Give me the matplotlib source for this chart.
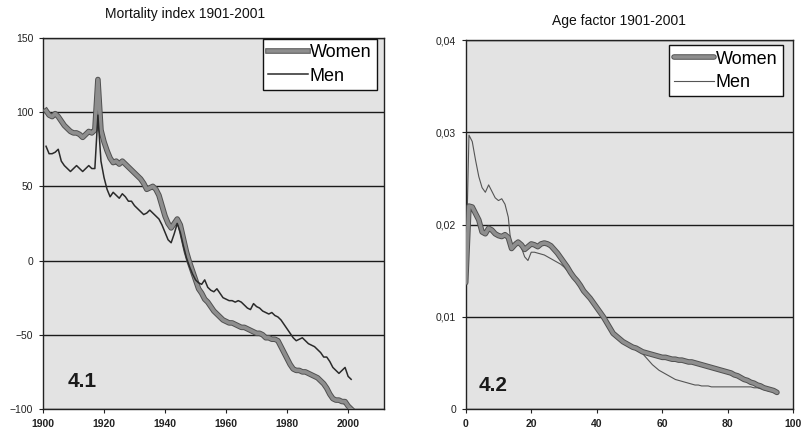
import matplotlib
matplotlib.use("Agg")
import matplotlib.pyplot as plt
import matplotlib.patheffects as pe
import numpy as np

plt.rcParams['font.family'] = ['Liberation Sans', 'DejaVu Sans']

# ---- data: mortality index 1901-2001 ----
years = list(range(1901, 2002))
women_idx = [101, 98, 97, 99, 97, 94, 91, 89, 87, 86,
             86, 85, 83, 85, 87, 86, 88, 122, 88, 80,
             74, 69, 66, 67, 65, 67, 65, 63, 61, 59,
             57, 55, 52, 48, 49, 50, 48, 44, 37, 30,
             25, 22, 25, 28, 24, 15, 6, -1, -7, -13,
             -19, -22, -26, -28, -31, -34, -36, -38, -40, -41,
             -42, -42, -43, -44, -45, -45, -46, -47, -48, -49,
             -49, -50, -52, -52, -53, -53, -54, -58, -62, -66,
             -70, -73, -74, -74, -75, -75, -76, -77, -78, -79,
             -81, -83, -86, -90, -93, -94, -94, -95, -95, -98,
             -100]
men_idx = [77, 72, 72, 73, 75, 67, 64, 62, 60, 62,
           64, 62, 60, 62, 64, 62, 62, 98, 67, 56,
           48, 43, 46, 44, 42, 45, 43, 40, 40, 37,
           35, 33, 31, 32, 34, 32, 30, 28, 24, 19,
           14, 12, 18, 25, 19, 10, 2, -4, -9, -13,
           -15, -16, -13, -18, -20, -21, -19, -22, -25, -26,
           -27, -27, -28, -27, -28, -30, -32, -33, -29, -31,
           -32, -34, -35, -36, -35, -37, -38, -40, -43, -46,
           -49, -52, -54, -53, -52, -54, -56, -57, -58, -60,
           -62, -65, -65, -68, -72, -74, -76, -74, -72, -78,
           -80]

# ---- data: age factor by age 0-95 ----
ages = list(range(0, 96))
women_age = [.0137, .0220, .0219, .0212, .0205, .0192, .0190, .0196, .0194, .0190,
             .0188, .0187, .0189, .0186, .0174, .0178, .0181, .0178, .0173, .0176,
             .0179, .0178, .0176, .0179, .0180, .0179, .0177, .0173, .0169, .0164,
             .0159, .0154, .0148, .0143, .0139, .0134, .0128, .0124, .0120, .0115,
             .0110, .0105, .0100, .0094, .0088, .0082, .0079, .0076, .0073, .0071,
             .0069, .0067, .0066, .0064, .0062, .0061, .0060, .0059, .0058, .0057,
             .0056, .0056, .0055, .0054, .0054, .0053, .0053, .0052, .0051, .0051,
             .0050, .0049, .0048, .0047, .0046, .0045, .0044, .0043, .0042, .0041,
             .0040, .0039, .0037, .0036, .0034, .0032, .0031, .0029, .0028, .0026,
             .0025, .0023, .0022, .0021, .0020, .0018]
men_age = [.0140, .0297, .0290, .0270, .0252, .0240, .0235, .0243, .0236, .0229,
           .0226, .0228, .0222, .0208, .0172, .0181, .0179, .0175, .0165, .0161,
           .0170, .0170, .0169, .0168, .0167, .0165, .0163, .0161, .0159, .0157,
           .0154, .0150, .0146, .0142, .0138, .0133, .0128, .0124, .0119, .0114,
           .0109, .0104, .0099, .0093, .0087, .0081, .0078, .0075, .0072, .0070,
           .0068, .0066, .0064, .0062, .0060, .0056, .0052, .0048, .0045, .0042,
           .0040, .0038, .0036, .0034, .0032, .0031, .0030, .0029, .0028, .0027,
           .0026, .0026, .0025, .0025, .0025, .0024, .0024, .0024, .0024, .0024,
           .0024, .0024, .0024, .0024, .0024, .0024, .0024, .0024, .0023, .0023,
           .0022, .0021, .0020, .0019, .0019, .0018]

fig = plt.figure(figsize=(8.05, 4.34), dpi=100)
ax1 = fig.add_axes([0.0534, 0.0576, 0.423, 0.855])
ax2 = fig.add_axes([0.5785, 0.0576, 0.407, 0.850])

women_fx = [pe.Stroke(linewidth=4.0, foreground='#505050'), pe.Normal()]


def style(ax):
    ax.set_facecolor('#e3e3e3')
    for s in ax.spines.values():
        s.set_color('#222222')
        s.set_linewidth(1.0)
    ax.tick_params(axis='both', direction='out', length=3, width=0.8,
                   color='#222222', labelsize=7.5, labelcolor='#222222', pad=4)
    ax.yaxis.grid(True, color='#1a1a1a', linewidth=1.0)
    ax.set_axisbelow(True)
    for lab in ax.get_xticklabels():
        lab.set_fontweight('bold')


# left panel
ax1.plot(years, women_idx, color='#8e8e8e', linewidth=2.6, path_effects=women_fx,
         solid_joinstyle='round', label='Women', zorder=3)
ax1.plot(years, men_idx, color='#2a2a2a', linewidth=1.1, label='Men', zorder=4)
ax1.set_xlim(1900, 2011.6)
ax1.set_ylim(-100, 150)
ax1.set_xticks([1900, 1920, 1940, 1960, 1980, 2000])
ax1.set_yticks([-100, -50, 0, 50, 100, 150])
style(ax1)
ax1.text(0.114, 0.075, '4.1', transform=ax1.transAxes, ha='center', va='center',
         fontsize=15, fontweight='bold', color='#1a1a1a')
leg1 = ax1.legend(loc='upper right', bbox_to_anchor=(0.981, 0.997), borderaxespad=0,
                  fontsize=13, handlelength=2.2, labelspacing=0.35, handletextpad=0.1,
                  fancybox=False, framealpha=1, edgecolor='#111111', borderpad=0.3)
leg1.get_frame().set_linewidth(1.0)

# right panel
ax2.plot(ages, women_age, color='#8e8e8e', linewidth=2.6, path_effects=women_fx,
         solid_joinstyle='round', solid_capstyle='round', label='Women', zorder=3)
ax2.plot(ages, men_age, color='#555555', linewidth=0.8, label='Men', zorder=2)
ax2.set_xlim(0, 100)
ax2.set_ylim(0, 0.04)
ax2.set_xticks([0, 20, 40, 60, 80, 100])
ax2.set_yticks([0, 0.01, 0.02, 0.03, 0.04])
ax2.set_yticklabels(['0', '0,01', '0,02', '0,03', '0,04'])
style(ax2)
ax2.text(0.085, 0.065, '4.2', transform=ax2.transAxes, ha='center', va='center',
         fontsize=15, fontweight='bold', color='#1a1a1a')
leg2 = ax2.legend(loc='upper right', bbox_to_anchor=(0.9686, 0.986), borderaxespad=0,
                  fontsize=13, handlelength=2.2, labelspacing=0.35, handletextpad=0.1,
                  fancybox=False, framealpha=1, edgecolor='#111111', borderpad=0.3)
leg2.get_frame().set_linewidth(1.0)

fig.text(185 / 805, 1 - 14 / 434, 'Mortality index 1901-2001', ha='center', va='center',
         fontsize=10, color='#111111')
fig.text(619 / 805, 1 - 21 / 434, 'Age factor 1901-2001', ha='center', va='center',
         fontsize=10, color='#111111')

fig.savefig('out.png', dpi=100, facecolor='white')
